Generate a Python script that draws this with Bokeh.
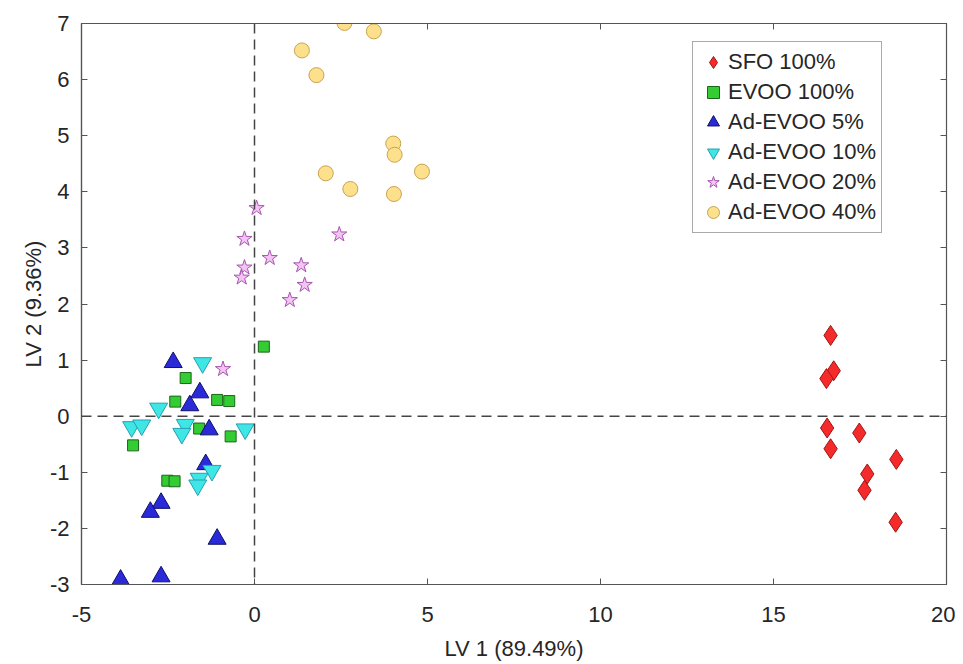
from bokeh.plotting import figure
from bokeh.models import (Span, Legend, LegendItem, LinearAxis, FixedTicker, Range1d,
                          CustomJSTickFormatter)
from bokeh.embed import file_html
from bokeh.resources import INLINE

# ---- data ----
sfo_x = [16.65, 16.74, 16.53, 16.55, 16.65, 17.48, 18.55, 17.71, 17.63, 18.53]
sfo_y = [1.44, 0.81, 0.67, -0.21, -0.58, -0.30, -0.77, -1.03, -1.32, -1.89]

evoo_x = [0.27, -1.99, -2.29, -1.08, -0.73, -1.60, -0.69, -3.51, -2.52, -2.31]
evoo_y = [1.24, 0.68, 0.26, 0.29, 0.27, -0.22, -0.36, -0.52, -1.15, -1.16]

ad5_x = [-2.35, -1.58, -1.87, -1.31, -1.41, -2.70, -3.01, -1.08, -3.87, -2.70]
ad5_y = [0.96, 0.42, 0.19, -0.24, -0.86, -1.55, -1.71, -2.19, -2.92, -2.86]

ad10_x = [-1.50, -2.77, -3.55, -3.26, -2.00, -2.10, -0.27, -1.23, -1.60, -1.64]
ad10_y = [0.95, 0.14, -0.19, -0.16, -0.15, -0.31, -0.23, -0.97, -1.11, -1.23]

ad20_x = [0.06, -0.29, 2.45, 0.44, 1.35, -0.29, -0.37, 1.45, 1.02, -0.91]
ad20_y = [3.71, 3.16, 3.24, 2.82, 2.69, 2.65, 2.47, 2.34, 2.07, 0.84]

ad40_x = [2.60, 3.45, 1.37, 1.79, 4.01, 4.05, 2.06, 4.84, 2.77, 4.03]
ad40_y = [7.01, 6.86, 6.52, 6.08, 4.86, 4.66, 4.33, 4.36, 4.05, 3.96]

x_ticks = [-5, 0, 5, 10, 15, 20]
y_ticks = [-3, -2, -1, 0, 1, 2, 3, 4, 5, 6, 7]

series = [
    ("SFO 100%", sfo_x, sfo_y, "diamond", 20, "#f52a2a", "#a01515"),
    ("EVOO 100%", evoo_x, evoo_y, "square", 11, "#33cc33", "#1a661a"),
    ("Ad-EVOO 5%", ad5_x, ad5_y, "triangle", 18, "#2a2ad8", "#10106a"),
    ("Ad-EVOO 10%", ad10_x, ad10_y, "inverted_triangle", 18, "#3fe6e6", "#25a0b0"),
    ("Ad-EVOO 20%", ad20_x, ad20_y, "star", 16, "#f3c3f3", "#a855b0"),
    ("Ad-EVOO 40%", ad40_x, ad40_y, "circle", 15, "#fde08c", "#c8a450"),
]

FONT = "Liberation Sans"
TXT = "#262626"
AX = "#555555"

p = figure(width=955, height=662, output_backend="svg", toolbar_location=None,
           x_range=Range1d(-5, 20), y_range=Range1d(-3, 7),
           x_axis_label="LV 1 (89.49%)", y_axis_label="LV 2 (9.36%)")
p.frame_width = 865
p.frame_height = 561
p.min_border_left = 81
p.min_border_right = 9
p.min_border_top = 23
p.min_border_bottom = 78
p.xgrid.visible = False
p.ygrid.visible = False
p.outline_line_color = AX
p.outline_line_width = 1.2
p.background_fill_color = "white"
p.border_fill_color = "white"

fmt = CustomJSTickFormatter(code="return tick.toFixed(0);")
for ax in (p.xaxis[0], p.yaxis[0]):
    ax.axis_line_color = AX
    ax.axis_line_width = 1.2
    ax.major_tick_in = 6
    ax.major_tick_out = 0
    ax.major_tick_line_color = AX
    ax.minor_tick_line_color = None
    ax.formatter = fmt
    ax.major_label_text_font = FONT
    ax.major_label_text_font_size = "22px"
    ax.major_label_text_color = TXT
    ax.axis_label_text_font = FONT
    ax.axis_label_text_font_size = "22px"
    ax.axis_label_text_font_style = "normal"
    ax.axis_label_text_color = TXT

p.xaxis[0].ticker = FixedTicker(ticks=x_ticks)
p.yaxis[0].ticker = FixedTicker(ticks=y_ticks)
p.xaxis[0].major_label_standoff = 22
p.xaxis[0].axis_label_standoff = 11
p.yaxis[0].major_label_standoff = 12
p.yaxis[0].axis_label_standoff = 1

# mirrored ticks on top and right (box on)
top_ax = LinearAxis(ticker=FixedTicker(ticks=x_ticks), major_label_text_font_size="0px",
                    major_tick_in=6, major_tick_out=0, minor_tick_line_color=None,
                    axis_line_color=AX, major_tick_line_color=AX, major_label_standoff=0)
right_ax = LinearAxis(ticker=FixedTicker(ticks=y_ticks), major_label_text_font_size="0px",
                      major_tick_in=6, major_tick_out=0, minor_tick_line_color=None,
                      axis_line_color=AX, major_tick_line_color=AX, major_label_standoff=0)
p.add_layout(top_ax, "above")
p.add_layout(right_ax, "right")

# dashed zero lines
p.add_layout(Span(location=0, dimension="height", line_color="#444444",
                  line_dash="10 6", line_width=1.5))
p.add_layout(Span(location=0, dimension="width", line_color="#444444",
                  line_dash="10 6", line_width=1.5))

items = []
for label, xs, ys, marker, size, fill, edge in series:
    r = p.scatter(xs, ys, marker=marker, size=size, fill_color=fill,
                  line_color=edge, line_width=1)
    items.append(LegendItem(label=label, renderers=[r]))

legend = Legend(items=items, location=(611, 351))
legend.margin = 0
legend.padding = 5
legend.spacing = 0
legend.glyph_width = 30
legend.glyph_height = 30
legend.label_height = 30
legend.label_standoff = 0
legend.label_text_font = FONT
legend.label_text_font_size = "22px"
legend.label_text_color = TXT
legend.border_line_color = AX
legend.border_line_width = 1
legend.background_fill_color = "white"
legend.background_fill_alpha = 1
p.add_layout(legend)

open("out.html", "w").write(file_html(p, INLINE))
